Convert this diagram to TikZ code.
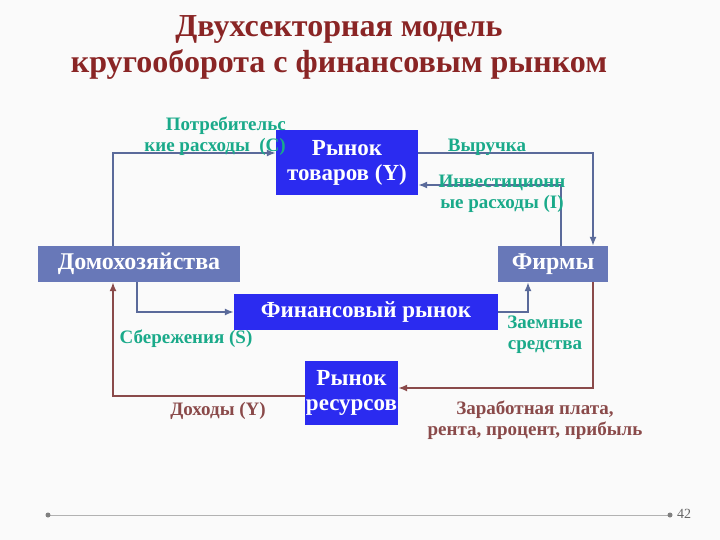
\documentclass[tikz,border=0pt]{standalone}
\usepackage{fontspec}
\setmainfont{Liberation Serif}
\usetikzlibrary{arrows.meta}
\definecolor{bbox}{HTML}{2B2BF0}
\definecolor{sbox}{HTML}{6878B8}
\definecolor{lnk}{HTML}{5A6A9A}
\definecolor{brn}{HTML}{8A4A4A}
\definecolor{tl}{HTML}{1AAA8A}
\definecolor{ttl}{HTML}{8A2525}
\tikzset{
 bx/.style={fill=bbox,text=white,font=\bfseries\fontsize{23}{25}\selectfont,align=center,inner sep=0pt},
 sx/.style={fill=sbox,text=white,font=\bfseries\fontsize{24}{26}\selectfont,inner sep=0pt},
 fl/.style={lnk,line width=1.5pt,-{Latex[length=9pt,width=7pt]}},
 fb/.style={brn,line width=1.5pt,-{Latex[length=9pt,width=7pt]}},
 lt/.style={text=tl,font=\bfseries\fontsize{19}{21}\selectfont,align=center,inner sep=0pt},
 lb/.style={text=brn,font=\bfseries\fontsize{19}{21}\selectfont,align=center,inner sep=0pt}
}
\begin{document}
\begin{tikzpicture}[x=1pt,y=-1pt]
\fill[white!96!gray] (0,0) rectangle (720,540);
\useasboundingbox (0,0) rectangle (720,540);
\node[text=ttl,font=\bfseries\fontsize{32}{36}\selectfont,align=center] (t) at (339,47) {Двухсекторная модель\\кругооборота с финансовым рынком};
\node[bx,minimum width=142pt,minimum height=65pt] (g) at (347,162.5) {Рынок\\товаров (Y)};
\node[sx,minimum width=202pt,minimum height=36pt] (h) at (139,264) {Домохозяйства};
\node[sx,minimum width=110pt,minimum height=36pt] (f) at (553,264) {Фирмы};
\node[bx,minimum width=264pt,minimum height=36pt] (fm) at (366,312) {Финансовый рынок};
\node[bx,minimum width=93pt,minimum height=64pt] (r) at (351.5,393) {Рынок\\ресурсов};
\draw[fl] (h.north -| 113,0) |- (g.west |- 0,153);
\draw[fl] (g.east |- 0,153) -| (f.north -| 593,0);
\draw[fl] (f.north -| 561,0) |- (g.east |- 0,185);
\draw[fl] (h.south -| 137,0) |- (fm.west);
\draw[fl] (fm.east) -| (f.south -| 528,0);
\draw[fb] (f.south -| 593,0) |- (r.east |- 0,388);
\draw[fb] (r.west |- 0,396) -| (h.south -| 113,0);
\node[lt,align=right,anchor=east] (l1) at (286,136) {Потребительс\\кие расходы\ \ (С)};
\node[lt] (l2) at (487,147) {Выручка};
\node[lt] (l3) at (502,194) {Инвестиционн\\ые расходы (I)};
\node[lt] (l4) at (186,339) {Сбережения (S)};
\node[lt] (l5) at (545,335) {Заемные\\средства};
\node[lb] (l6) at (218,411) {Доходы (Y)};
\node[lb] (l7) at (535,420) {Заработная плата,\\рента, процент, прибыль};
\draw[gray!60,line width=1pt] (48,515) -- (670,515);
\fill[gray] (48,515) circle (2.5pt) (670,515) circle (2.5pt);
\node[text=gray!80!black,font=\fontsize{14}{15}\selectfont] (pg) at (684,514) {42};
\end{tikzpicture}
\end{document}
